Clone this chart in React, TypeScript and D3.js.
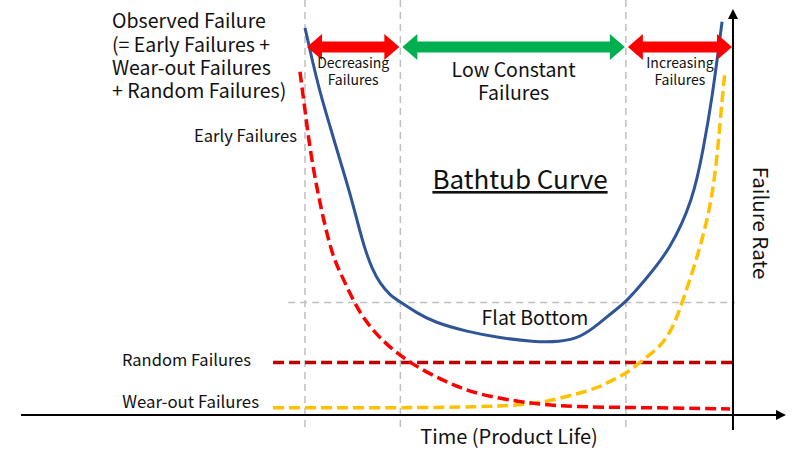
import * as d3 from "d3";

// Time in arbitrary life units, failure rate in arbitrary units.
const observedT = [0, 1.7, 3.6, 6.0, 8.3, 10.7, 12.6, 14.3, 16.0, 17.9, 20.2, 22.6, 26.7, 30.5, 38.6, 46.4, 54.3, 60.7, 65.5, 70.2, 73.3, 76.2, 81.0, 86.9, 92.4, 94.8, 96.9, 99.3];
const observedRate = [96.8, 88.8, 80.5, 72.0, 63.8, 55.5, 47.8, 41.3, 36.5, 32.8, 30.0, 28.3, 25.5, 23.3, 20.8, 19.3, 18.3, 18.3, 19.3, 23.0, 25.8, 28.0, 33.8, 41.3, 53.8, 66.3, 78.8, 98.3];

const earlyT = [-1.2, 0, 1.2, 2.9, 4.8, 6.7, 8.3, 11.4, 13.8, 17.9, 24.3, 33.8, 41.7, 51.2, 57.6, 65.5, 84.5, 101.2];
const earlyRate = [85.8, 76.3, 66.3, 56.3, 47.0, 39.5, 35.8, 28.8, 24.3, 19.0, 13.3, 8.0, 5.0, 3.3, 2.5, 2.0, 1.8, 1.5];

const wearT = [-7.6, 22.6, 41.7, 51.2, 57.6, 65.5, 70.2, 73.3, 76.7, 80.5, 84.5, 87.4, 89.8, 94.0, 96.9, 98.3, 99.3, 100];
const wearRate = [1.8, 1.8, 2.0, 2.5, 3.3, 5.5, 7.0, 8.8, 10.5, 13.8, 17.0, 21.3, 28.0, 41.3, 53.8, 66.3, 78.8, 85.8];

const randomT = [-7.6, 102.4];
const randomRate = [13.1, 13.1];

// phase boundaries on the time axis
const phaseBounds = [0, 22.7, 76.4, 101.9];
const phaseLabels = [["Decreasing", "Failures"], ["Low Constant", "Failures"], ["Increasing", "Failures"]];
const phaseColors = ["#ff0000", "#00b050", "#ff0000"];

const flatBottomRate = 28.1;

const W = 800;
const H = 450;
const FONT = "'Noto Sans CJK JP', 'Noto Sans', sans-serif";

const x = d3.scaleLinear().domain([0, 100]).range([305, 725]);
const y = d3.scaleLinear().domain([0, 100]).range([415, 15]);

const zip = (ts: number[], rs: number[]) => ts.map((t, i) => [t, rs[i]] as [number, number]);

// B-spline smooths out the small reading errors in the hand-read points
const line = d3
  .line<[number, number]>()
  .x((d) => x(d[0]))
  .y((d) => y(d[1]))
  .curve(d3.curveBasis);

// horizontal double-headed block arrow
function blockArrow(x0: number, x1: number, cy: number) {
  const head = 15;
  const hh = 13;
  const bh = 5.5;
  return [
    [x0, cy],
    [x0 + head, cy - hh],
    [x0 + head, cy - bh],
    [x1 - head, cy - bh],
    [x1 - head, cy - hh],
    [x1, cy],
    [x1 - head, cy + hh],
    [x1 - head, cy + bh],
    [x0 + head, cy + bh],
    [x0 + head, cy + hh],
  ]
    .map((p, i) => `${i ? "L" : "M"}${p[0]},${p[1]}`)
    .join("") + "Z";
}

export default function App() {
  const axisX = x(phaseBounds[3]);
  const axisY = y(0);
  const arrowY = 47;

  return (
    <svg
      width={W}
      height={H}
      style={{ position: "absolute", left: 0, top: 0, background: "#fff" }}
      fontFamily={FONT}
    >
      {/* grid guides */}
      {phaseBounds.slice(0, 3).map((t, i) => (
        <line key={i} x1={x(t)} x2={x(t)} y1={0} y2={430} stroke="#bfbfbf" strokeWidth={1.5} strokeDasharray="7,5" />
      ))}
      <line x1={x(-4)} x2={x(102.4)} y1={y(flatBottomRate)} y2={y(flatBottomRate)} stroke="#bfbfbf" strokeWidth={1.5} strokeDasharray="7,5" />

      {/* axes */}
      <line x1={21} x2={778} y1={axisY} y2={axisY} stroke="#000" strokeWidth={2} />
      <path d={`M786,${axisY}L776,${axisY - 5}L776,${axisY + 5}Z`} fill="#000" />
      <line x1={axisX} x2={axisX} y1={430} y2={18} stroke="#000" strokeWidth={2} />
      <path d={`M${axisX},9L${axisX - 5},19L${axisX + 5},19Z`} fill="#000" />

      {/* component curves */}
      <path d={line(zip(randomT, randomRate)) ?? ""} fill="none" stroke="#c00000" strokeWidth={3.5} strokeDasharray="11,5" />
      <path d={line(zip(wearT, wearRate)) ?? ""} fill="none" stroke="#ffc000" strokeWidth={3.5} strokeDasharray="11,5" />
      <path d={line(zip(earlyT, earlyRate)) ?? ""} fill="none" stroke="#ff0000" strokeWidth={3.5} strokeDasharray="11,5" />
      <path d={line(zip(observedT, observedRate)) ?? ""} fill="none" stroke="#2f5597" strokeWidth={3} />

      {/* phase arrows */}
      {phaseLabels.map((lbl, i) => {
        const a = x(phaseBounds[i]) + 2;
        const b = x(phaseBounds[i + 1]) - 1;
        const big = i === 1;
        const cx = (a + b) / 2;
        const fs = big ? 19.5 : 14;
        return (
          <g key={i}>
            <path d={blockArrow(a, b, arrowY)} fill={phaseColors[i]} />
            <text x={cx} y={big ? 77 : 68} textAnchor="middle" fontSize={fs} fill="#111">
              {lbl[0]}
            </text>
            <text x={cx} y={big ? 100 : 85} textAnchor="middle" fontSize={fs} fill="#111">
              {lbl[1]}
            </text>
          </g>
        );
      })}

      {/* labels */}
      <g fontSize={19.5} fill="#111">
        <text x={112} y={28}>Observed Failure</text>
        <text x={112} y={52}>(= Early Failures +</text>
        <text x={112} y={75}>Wear-out Failures</text>
        <text x={112} y={98}>+ Random Failures)</text>
      </g>
      <text x={297} y={142} textAnchor="end" fontSize={16.6} fill="#111">Early Failures</text>
      <text x={251} y={366} textAnchor="end" fontSize={16.5} fill="#111">Random Failures</text>
      <text x={259} y={408} textAnchor="end" fontSize={16.8} fill="#111">Wear-out Failures</text>
      <text x={520} y={189} textAnchor="middle" fontSize={26} fill="#111" textDecoration="underline">Bathtub Curve</text>
      <text x={535} y={325} textAnchor="middle" fontSize={19.5} fill="#111">Flat Bottom</text>
      <text x={509} y={444} textAnchor="middle" fontSize={20} fill="#111">Time (Product Life)</text>
      <text transform="translate(753,223) rotate(90)" textAnchor="middle" fontSize={20.5} fill="#111">Failure Rate</text>
    </svg>
  );
}
